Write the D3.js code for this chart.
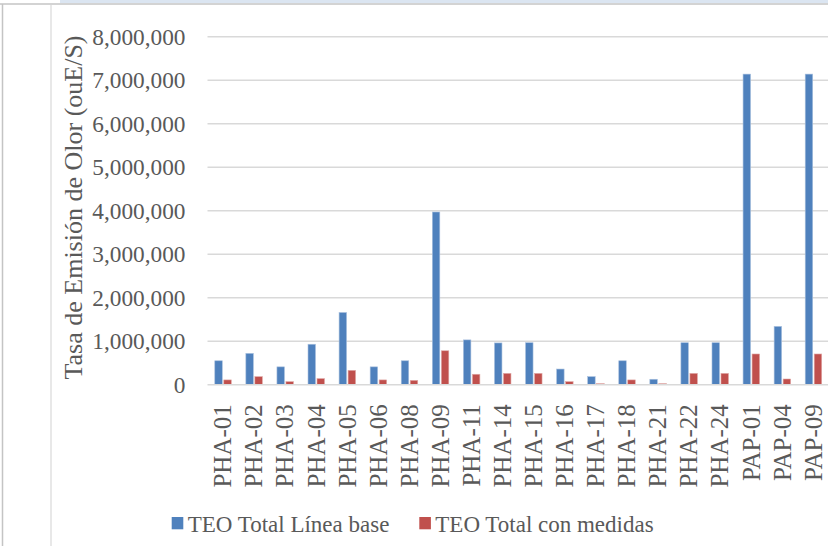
<!DOCTYPE html>
<html>
<head>
<meta charset="utf-8">
<script src="https://cdn.jsdelivr.net/npm/d3@7/dist/d3.min.js"></script>
<style>
  html, body { margin: 0; padding: 0; background: #fff; }
  svg { display: block; }
</style>
</head>
<body>
<script>
// Odour emission rate per source: baseline vs. with control measures
const categories = ["PHA-01","PHA-02","PHA-03","PHA-04","PHA-05","PHA-06","PHA-08","PHA-09","PHA-11","PHA-14","PHA-15","PHA-16","PHA-17","PHA-18","PHA-21","PHA-22","PHA-24","PAP-01","PAP-04","PAP-09"];
const lineaBase = [550000, 720000, 410000, 930000, 1660000, 410000, 550000, 3970000, 1030000, 960000, 965000, 360000, 185000, 550000, 125000, 965000, 965000, 7140000, 1340000, 7140000];
const conMedidas = [110000, 185000, 70000, 140000, 330000, 110000, 100000, 780000, 240000, 260000, 260000, 70000, 23000, 110000, 23000, 260000, 260000, 706000, 131000, 706000];
const seriesNames = ["TEO Total Línea base", "TEO Total con medidas"];
const yTicks = [0, 1000000, 2000000, 3000000, 4000000, 5000000, 6000000, 7000000, 8000000];
const yTitle = "Tasa de Emisión de Olor (ouE/S)";
const colors = ["#4F81BD", "#C0504D"];

const FONT = '"Liberation Serif", "Times New Roman", serif';
const TEXT = "#595959";

const W = 828, H = 546;
const svg = d3.select("body").append("svg").attr("width", W).attr("height", H)
  .style("font-family", FONT);

// Outer frame lines
svg.append("rect").attr("x", 60).attr("y", 0).attr("width", W - 60).attr("height", 3).attr("fill", "#dbe5f1");
svg.append("line").attr("x1", 0).attr("x2", W).attr("y1", 4).attr("y2", 4).attr("stroke", "#c4c4c4").attr("stroke-width", 1.5);
svg.append("line").attr("x1", 2.5).attr("x2", 2.5).attr("y1", 4).attr("y2", H).attr("stroke", "#c4c4c4").attr("stroke-width", 1.5);
svg.append("line").attr("x1", 51).attr("x2", 51).attr("y1", 5).attr("y2", H).attr("stroke", "#e0e0e0").attr("stroke-width", 1.5);

const plot = { left: 207.5, right: 829, top: 36.7, bottom: 384.7 };

const x = d3.scaleBand().domain(categories).range([plot.left, plot.right]).paddingInner(0).paddingOuter(0);
const y = d3.scaleLinear().domain([0, 8000000]).range([plot.bottom, plot.top]);

const barW = 7.5, barGap = 1.5;
const groupW = barW * 2 + barGap;
const x1 = d3.scaleOrdinal().domain([0, 1]).range([0, barW + barGap]);

// Gridlines
svg.append("g").selectAll("line").data(yTicks.filter(d => d > 0)).join("line")
  .attr("x1", plot.left).attr("x2", W)
  .attr("y1", d => y(d)).attr("y2", d => y(d))
  .attr("stroke", "#d9d9d9").attr("stroke-width", 1.5);

// Y axis labels
const yAxis = d3.axisLeft(y).tickValues(yTicks).tickFormat(d3.format(",")).tickSize(0).tickPadding(0);
const gy = svg.append("g").attr("transform", "translate(185.5,0)").call(yAxis)
  .attr("font-family", FONT);
gy.select(".domain").remove();
gy.selectAll("text").attr("fill", TEXT).style("font-family", FONT).style("font-size", "23.3px");

// Y axis title
svg.append("text")
  .attr("transform", `translate(81.5,${(35 + 380) / 2}) rotate(-90)`)
  .attr("text-anchor", "middle")
  .style("font-family", FONT).style("font-size", "26px")
  .attr("fill", TEXT)
  .text(yTitle);

// Bars
const series = [lineaBase, conMedidas];
series.forEach((vals, si) => {
  svg.append("g").selectAll("rect").data(categories).join("rect")
    .attr("x", d => x(d) + (x.bandwidth() - groupW) / 2 + x1(si))
    .attr("width", barW)
    .attr("y", (d, i) => y(vals[i]))
    .attr("height", (d, i) => plot.bottom - y(vals[i]))
    .attr("fill", colors[si])
    .attr("stroke", si === 0 ? "#a9c0de" : "#e0a9a7")
    .attr("stroke-width", 0.6);
});

// Baseline axis
svg.append("line").attr("x1", plot.left).attr("x2", W)
  .attr("y1", plot.bottom).attr("y2", plot.bottom)
  .attr("stroke", "#d9d9d9").attr("stroke-width", 1.5);

// Category labels
const xAxis = d3.axisBottom(x).tickSize(0).tickPadding(0);
const gx = svg.append("g").attr("transform", `translate(0,${plot.bottom})`).call(xAxis)
  .attr("font-family", FONT);
gx.select(".domain").remove();
gx.selectAll("text")
  .attr("fill", TEXT)
  .style("font-family", FONT).style("font-size", "25px")
  .attr("text-anchor", "end")
  .attr("transform", "rotate(-90)")
  .attr("x", -19.5).attr("y", 0).attr("dy", "0.33em");

// Legend
const legend = [
  { name: seriesNames[0], color: colors[0], x: 171.7 },
  { name: seriesNames[1], color: colors[1], x: 419.3 }
];
const lg = svg.append("g");
legend.forEach(l => {
  lg.append("rect").attr("x", l.x).attr("y", 517).attr("width", 11.6).attr("height", 12.3).attr("fill", l.color);
  lg.append("text").attr("x", l.x + 16).attr("y", 531.5)
    .style("font-family", FONT).style("font-size", "23px")
    .attr("fill", TEXT).text(l.name);
});
</script>
</body>
</html>
